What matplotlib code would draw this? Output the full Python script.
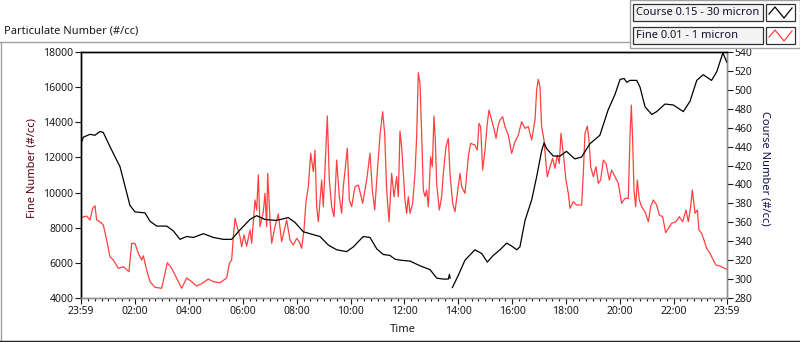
import matplotlib
matplotlib.use("Agg")
import matplotlib.pyplot as plt
import numpy as np
from matplotlib.patches import Rectangle
from matplotlib.lines import Line2D

plt.rcParams['font.family'] = ['Noto Sans', 'DejaVu Sans']

# clock hours (23:59 -> 23:59)
fine_t = [-0.017, 0.194, 0.318, 0.417, 0.503, 0.565, 0.689, 0.813, 0.937, 1.060,
          1.184, 1.370, 1.556, 1.766, 1.866, 1.989, 2.113, 2.237, 2.299, 2.423,
          2.547, 2.732, 2.980, 3.104, 3.190, 3.352, 3.537, 3.723, 3.909, 4.095,
          4.280, 4.466, 4.714, 4.900, 5.147, 5.395, 5.494, 5.581, 5.643, 5.705,
          5.766, 5.890, 5.952, 6.039, 6.138, 6.262, 6.324, 6.448, 6.510, 6.571,
          6.633, 6.757, 6.819, 6.881, 6.918, 7.005, 7.067, 7.190, 7.314, 7.438,
          7.624, 7.748, 7.872, 7.996, 8.095, 8.181, 8.268, 8.342, 8.429, 8.516,
          8.615, 8.677, 8.739, 8.801, 8.924, 8.986, 9.135, 9.209, 9.296, 9.383,
          9.482, 9.581, 9.667, 9.729, 9.878, 9.952, 10.039, 10.163, 10.287, 10.448,
          10.596, 10.720, 10.807, 10.894, 11.005, 11.092, 11.191, 11.265, 11.340, 11.426,
          11.525, 11.612, 11.711, 11.773,
          11.834, 11.896, 11.958, 12.020, 12.082, 12.144, 12.206, 12.305, 12.391, 12.453,
          12.515, 12.577, 12.639, 12.701, 12.763, 12.825, 12.887, 12.973, 13.035, 13.097,
          13.147, 13.196, 13.295, 13.382, 13.444, 13.543, 13.630, 13.692, 13.791, 13.877,
          13.964, 14.063, 14.125, 14.249, 14.373, 14.459, 14.620, 14.707, 14.769, 14.831,
          14.905, 14.992, 15.079, 15.141, 15.240, 15.339, 15.401, 15.487, 15.549, 15.648,
          15.735, 15.859, 15.983, 16.106, 16.230, 16.354, 16.478, 16.602, 16.726, 16.850,
          16.912, 16.973, 17.035, 17.097, 17.184, 17.258, 17.308, 17.407, 17.506, 17.593,
          17.679, 17.754, 17.815, 17.902, 18.001, 18.088, 18.150, 18.274, 18.398, 18.583,
          18.645, 18.707, 18.794, 18.856, 18.918, 19.017, 19.116, 19.203, 19.289, 19.388,
          19.487, 19.611, 19.698, 19.822, 19.946, 20.069, 20.193, 20.317, 20.379, 20.429,
          20.478, 20.528, 20.590, 20.651, 20.726, 20.812, 20.936, 21.060, 21.147, 21.246,
          21.370, 21.469, 21.593, 21.704, 21.803, 21.927, 22.088, 22.212, 22.336, 22.459,
          22.546, 22.633, 22.695, 22.794, 22.881, 22.943, 23.041, 23.128, 23.227, 23.351,
          23.475, 23.574, 23.723, 23.847, 23.970]
fine_v = [8570, 8666, 8438, 9104, 9252, 8438, 8342, 8154, 7300, 6350,
          6162, 5690, 5781, 5497, 7112, 7100, 6543, 6162, 6400, 5593,
          4927, 4608, 4551, 5405, 6009, 5690, 5121, 4551, 5140, 4927,
          4683, 4810, 5081, 4927, 4870, 5140, 5974, 6162, 7490, 8535,
          8154, 7490, 6920, 7585, 6950, 7870, 7112, 9576, 9006, 11000,
          8057, 8900, 9957, 8057, 11096, 8438, 7112, 8057, 8780, 7206,
          8438, 7300, 7016, 7395, 7206, 6828, 7870, 9480, 10333, 12233,
          11188, 12420, 9195, 8342, 10714, 9195, 14356, 10714, 9195, 8626,
          11852, 9764, 8826, 10333, 12518, 9576, 9195, 10333, 10428, 9385,
          10714, 12233, 10143, 9006, 11473, 13275, 14601, 13370, 10143, 8342,
          11096, 9764, 10904, 9764,
          13500, 12610, 11094, 9576, 8818, 9766, 8818, 9388, 11094, 13180,
          16820, 16214, 13370, 10145, 9766, 10145, 9197, 12040, 11470, 14356,
          12990, 10525, 9007, 9766, 11094, 12610, 13087, 11094, 9388, 8912,
          9955, 11094, 10333, 9955, 12040, 12800, 12700, 12420, 13938, 13750,
          11283, 12420, 13938, 14697, 14128, 13559, 13087, 13845, 14128, 14316,
          13750, 13275, 12231, 12894, 13275, 14032, 13654, 13750, 12990, 14128,
          15835, 16442, 16026, 13750, 12990, 11662, 10904, 11470, 11947, 11375,
          12135, 11662, 13370, 12230, 10714, 9955, 9102, 9482, 9290, 9290,
          11094, 13370, 13787, 12990, 11470, 10904, 11470, 10525, 10714, 11852,
          11662, 10714, 11283, 10904, 10525, 9388, 9671, 9671, 13180, 14982,
          12990, 10145, 9197, 10714, 9576, 9197, 8912, 8341, 9197, 9576,
          9290, 8723, 8628, 7717, 7960, 8250, 8341, 8628, 8341, 9007,
          8341, 9197, 10145, 8818, 9007, 7869, 7680, 7300, 6828, 6543,
          6162, 5878, 5820, 5726, 5630]

course_t = [-0.017, 0.07, 0.32, 0.50, 0.69, 0.81, 1.06, 1.25, 1.43, 1.62,
            1.80, 1.99, 2.36, 2.55, 2.80, 3.17, 3.41, 3.66, 3.91, 4.16,
            4.53, 4.90, 5.27, 5.58, 5.89, 6.26, 6.51, 6.82, 7.25, 7.68,
            7.93, 8.24, 8.61, 8.86, 9.17, 9.48, 9.85, 10.10, 10.47, 10.72,
            10.97, 11.21, 11.46, 11.65, 11.84, 12.21, 12.58, 12.95, 13.20, 13.44,
            13.63, 13.67, 13.70, 13.74, 13.78, 14.00, 14.25, 14.62, 14.87, 15.08,
            15.30, 15.55, 15.80, 15.98, 16.17, 16.29, 16.48, 16.73, 16.91, 17.10,
            17.19, 17.28, 17.53, 17.78, 18.02, 18.33, 18.58, 18.89, 19.26, 19.57,
            19.82, 20.01, 20.16, 20.26, 20.38, 20.63, 20.75, 20.94, 21.19, 21.37,
            21.68, 21.99, 22.36, 22.61, 22.86, 23.10, 23.41, 23.60, 23.83, 23.98]
course_v = [443, 450, 453, 452, 456, 455, 440, 429, 419, 398,
            378, 371, 370, 361, 356, 356, 351, 342, 345, 344,
            348, 344, 342, 342, 352, 363, 367, 363, 362, 365,
            360, 350, 347, 345, 336, 331, 329, 334, 345, 344,
            332, 326, 325, 321, 320, 319, 314, 310, 301, 300,
            300, 305, 301, np.nan, 291, 304, 320, 331, 327, 318,
            325, 331, 338, 335, 331, 334, 362, 384, 408, 436,
            444, 438, 430, 430, 435, 427, 429, 443, 452, 479,
            495, 511, 512, 508, 510, 510, 503, 482, 474, 477,
            485, 484, 477, 488, 510, 516, 510, 519, 539, 529]

x_ticks = [-1/60, 2, 4, 6, 8, 10, 12, 14, 16, 18, 20, 22, 24 - 1/60]
x_labels = ['23:59', '02:00', '04:00', '06:00', '08:00', '10:00', '12:00',
            '14:00', '16:00', '18:00', '20:00', '22:00', '23:59']

W, H = 800, 342
fig = plt.figure(figsize=(W / 100, H / 100), dpi=100)


def fx(x):
    return x / W


def fy(y):
    return 1 - y / H


ax = fig.add_axes([fx(81), fy(298), fx(727) - fx(81), fy(52) - fy(298)])
ax2 = ax.twinx()

ax.plot(fine_t, fine_v, color='#ff4040', lw=0.9)
ax2.plot(course_t, course_v, color='black', lw=0.9)

ax.set_xlim(-1/60, 24 - 1/60)
ax.set_ylim(4000, 18000)
ax2.set_ylim(280, 540)
ax.set_yticks(np.arange(4000, 18001, 2000))
ax2.set_yticks(np.arange(280, 541, 20))
ax.set_xticks(x_ticks)
ax.set_xticklabels(x_labels)
minor = [m for m in np.arange(0.25, 24, 0.25) if m % 2 != 0]
ax.set_xticks(minor, minor=True)

tick_col = '#1a1a1a'
ax.tick_params(axis='y', direction='out', length=4, width=0.8, labelsize=7.5,
               pad=1.5, colors=tick_col)
ax.tick_params(axis='x', which='major', direction='out', length=4, width=0.8,
               labelsize=7.5, pad=1.5, colors=tick_col)
ax.tick_params(axis='x', which='minor', direction='out', length=2.5, width=0.8,
               colors=tick_col)
ax2.tick_params(axis='y', direction='out', length=4, width=0.8, labelsize=7.5,
                pad=1.5, colors=tick_col)

for a in (ax, ax2):
    a.spines['left'].set_color('black')
    a.spines['top'].set_color('black')
    a.spines['right'].set_color('#909090')
    a.spines['bottom'].set_color('#909090')
    for s in a.spines.values():
        s.set_linewidth(1.0)

fig.text(fx(403), fy(329), 'Time', ha='center', va='center', fontsize=8,
         color='#1a1a1a')
fig.text(fx(32), fy(168), 'Fine Number (#/cc)', ha='center', va='center',
         rotation=90, fontsize=8, color='#5a0010')
fig.text(fx(765), fy(168), 'Course Number (#/cc)', ha='center', va='center',
         rotation=270, fontsize=8, color='#10104a')
fig.text(fx(4), fy(31), 'Particulate Number (#/cc)', ha='left', va='center',
         fontsize=8, color='#1a1a1a')

# panel frame
fig.add_artist(Line2D([fx(0), fx(630)], [fy(42), fy(42)], color='#a0a0a0', lw=1))
fig.add_artist(Line2D([fx(0.5), fx(0.5)], [fy(42), fy(341)], color='#a0a0a0', lw=1))
fig.add_artist(Line2D([0, 1], [fy(341), fy(341)], color='#202020', lw=1))

# legend panel
fig.add_artist(Rectangle((fx(630), fy(48)), fx(170), fy(0) - fy(48),
                         transform=fig.transFigure, facecolor='white',
                         edgecolor='#a0a0a0', lw=1))
legend_items = [('Course 0.15 - 30 micron', 'black', 4),
                ('Fine 0.01 - 1 micron', '#ff4040', 27)]
for label, col, top in legend_items:
    fig.add_artist(Rectangle((fx(633), fy(top + 17)), fx(130), fy(top) - fy(top + 17),
                             transform=fig.transFigure, facecolor='#f4f4f4',
                             edgecolor='#303030', lw=0.9))
    fig.text(fx(636), fy(top + 8.5), label, ha='left', va='center', fontsize=8,
             color='#10102a')
    fig.add_artist(Rectangle((fx(766), fy(top + 17)), fx(29), fy(top) - fy(top + 17),
                             transform=fig.transFigure, facecolor='white',
                             edgecolor='#303030', lw=0.9))
    zx = [769, 775, 784, 792]
    zy = [top + 10, top + 3, top + 14, top + 4]
    fig.add_artist(Line2D([fx(v) for v in zx], [fy(v) for v in zy],
                          color=col, lw=0.9))

fig.savefig('out.png', dpi=100)
